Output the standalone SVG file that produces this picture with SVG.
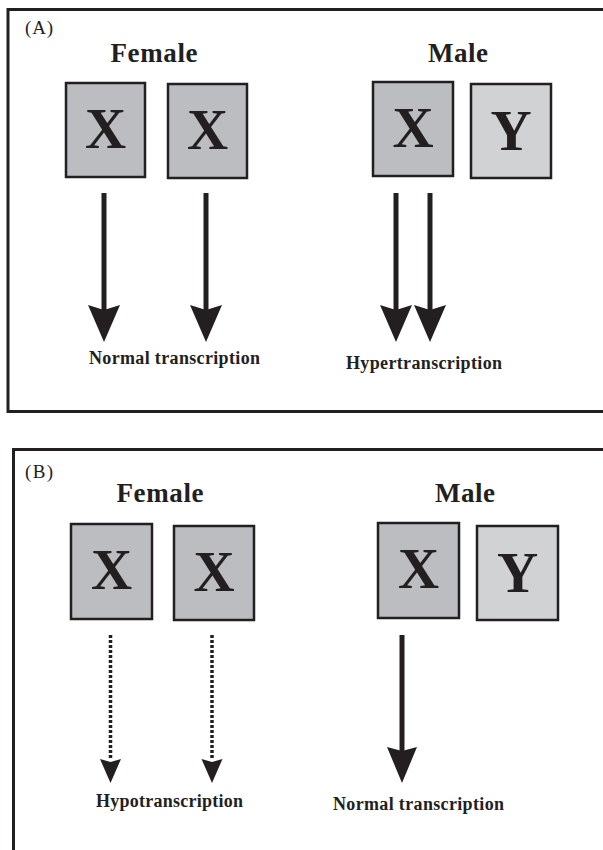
<svg xmlns="http://www.w3.org/2000/svg" width="603" height="850" viewBox="0 0 603 850">
<style>
.frame{fill:none;stroke:#231f20;stroke-width:3}
.box{stroke:#231f20;stroke-width:2.5}
.xb{fill:#bcbdc0}
.yb{fill:#d1d2d4}
.t{font-family:"Liberation Serif","Times New Roman",serif;fill:#231f20}
.lbl{font-size:19px}
.hd{font-size:27px;font-weight:bold;text-anchor:middle}
.chr{font-size:57px;font-weight:bold;text-anchor:middle}
.cap{font-size:18px;font-weight:bold}
.shaft{stroke:#231f20;stroke-width:5;fill:none}
.dot{stroke:#231f20;stroke-width:3.5;stroke-dasharray:3 2;fill:none}
.head{fill:#231f20}
</style>
<rect x="8" y="9.5" width="610" height="402" class="frame"/>
<rect x="13.5" y="449.5" width="610" height="420" class="frame"/>
<text x="25" y="34" class="t lbl" textLength="28">(A)</text>
<text x="25" y="478" class="t lbl" textLength="28">(B)</text>

<g id="A-female">
<text x="154" y="62" class="t hd" textLength="87">Female</text>
</g>
<g id="A-female-X1">
<rect x="66" y="83" width="79" height="94" class="box xb"/>
<text x="105.5" y="148" class="t chr">X</text>
</g>
<g id="A-female-X2">
<rect x="168" y="84" width="79" height="94" class="box xb"/>
<text x="207.5" y="149" class="t chr">X</text>
</g>
<g id="A-male">
<text x="458" y="62" class="t hd" textLength="60">Male</text>
</g>
<g id="A-male-X">
<rect x="373" y="82" width="80" height="94" class="box xb"/>
<text x="413" y="147" class="t chr">X</text>
</g>
<g id="A-male-Y">
<rect x="471" y="84" width="80" height="94" class="box yb"/>
<text x="511" y="150" class="t chr">Y</text>
</g>
<text x="89" y="364" class="t cap" textLength="171">Normal transcription</text>
<text x="346" y="369" class="t cap" textLength="156">Hypertranscription</text>

<g id="B-female">
<text x="160" y="502" class="t hd" textLength="87">Female</text>
</g>
<g id="B-female-X1">
<rect x="71" y="524" width="81" height="95" class="box xb"/>
<text x="111.5" y="589" class="t chr">X</text>
</g>
<g id="B-female-X2">
<rect x="174" y="526" width="80" height="94" class="box xb"/>
<text x="214" y="591" class="t chr">X</text>
</g>
<g id="B-male">
<text x="465" y="502" class="t hd" textLength="60">Male</text>
</g>
<g id="B-male-X">
<rect x="378" y="523" width="81" height="95" class="box xb"/>
<text x="418.5" y="588" class="t chr">X</text>
</g>
<g id="B-male-Y">
<rect x="477" y="526" width="81" height="94" class="box yb"/>
<text x="517.5" y="592" class="t chr">Y</text>
</g>
<text x="96" y="807" class="t cap" textLength="147">Hypotranscription</text>
<text x="333" y="810" class="t cap" textLength="171">Normal transcription</text>

<g id="connectors">
<line x1="104" y1="193" x2="104" y2="312" class="shaft"/>
<path d="M88 305 L104 310 L120 305 L104 342 Z" class="head"/>
<line x1="206" y1="193" x2="206" y2="312" class="shaft"/>
<path d="M190 305 L206 310 L222 305 L206 342 Z" class="head"/>
<line x1="396" y1="193" x2="396" y2="312" class="shaft"/>
<path d="M380 305 L396 310 L412 305 L396 342 Z" class="head"/>
<line x1="430" y1="193" x2="430" y2="312" class="shaft"/>
<path d="M414 305 L430 310 L446 305 L430 342 Z" class="head"/>

<line x1="110.5" y1="635" x2="110.5" y2="760" class="dot"/>
<path d="M100 759 L110.5 762 L121 759 L110.5 783 Z" class="head"/>
<line x1="212" y1="635" x2="212" y2="760" class="dot"/>
<path d="M201.5 759 L212 762 L222.5 759 L212 783 Z" class="head"/>
<line x1="402" y1="635" x2="402" y2="752" class="shaft"/>
<path d="M387 747 L402 751 L417 747 L402 783 Z" class="head"/>
</g>
</svg>
